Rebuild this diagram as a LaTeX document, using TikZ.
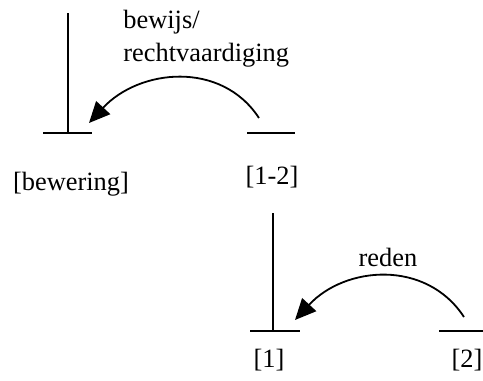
\documentclass[tikz,border=0pt]{standalone}
\usepackage{fontspec}
\setmainfont{Liberation Serif}
\usetikzlibrary{arrows.meta}

\begin{document}
\begin{tikzpicture}[x=0.5pt,y=0.5pt,>={Triangle[length=10.5pt,width=9.5pt]},
  stem/.style={line width=0.7pt},
  bar/.style={line width=1pt},
  support/.style={->,line width=0.9pt},
  lbl/.style={inner sep=0pt,font=\fontsize{13.2}{16.5}\selectfont}]
\useasboundingbox (0,0) rectangle (483,381);
% claim [bewering] supported by [1-2]
\coordinate (bew) at (68,248);
\coordinate (g12) at (271,248);
\draw[stem] (bew) -- ++(0,120);
\draw[bar] (bew) ++(-25,0) -- ++(49,0);
\draw[bar] (g12) ++(-24,0) -- ++(48,0);
\coordinate (bew-in) at (89,258);
\coordinate (g12-out) at (259,263);
\draw[support] (g12-out) .. controls +(-38,58) and +(50,54) .. (bew-in);
\node[lbl,anchor=north west,align=left] (bewijs) at (123,371) {bewijs/\\rechtvaardiging};
\node[lbl,anchor=base] (bewering) at (71,190) {[bewering]};
\node[lbl,anchor=base] (g12lbl) at (272,196) {[1-2]};
% [1-2] split into [1] and its reason [2]
\coordinate (r1) at (273,50);
\coordinate (r2) at (461,50);
\draw[stem] (r1) -- ++(0,118);
\draw[bar] (r1) ++(-23,0) -- ++(50,0);
\draw[bar] (r2) ++(-22,0) -- ++(44,0);
\coordinate (r1-in) at (295,61);
\coordinate (r2-out) at (464,64);
\draw[support] (r2-out) .. controls +(-38,58) and +(50,54) .. (r1-in);
\node[lbl,anchor=base] (reden) at (388,114) {reden};
\node[lbl,anchor=base] (r1lbl) at (269,13) {[1]};
\node[lbl,anchor=base] (r2lbl) at (467,13) {[2]};
\end{tikzpicture}
\end{document}
